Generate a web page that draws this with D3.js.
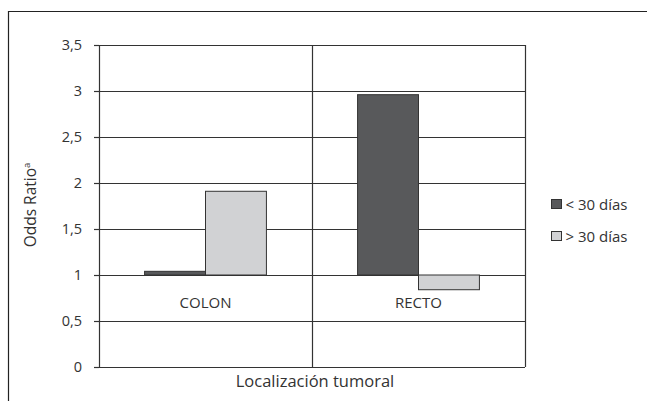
<!DOCTYPE html>
<html>
<head>
<meta charset="utf-8">
<script src="https://cdn.jsdelivr.net/npm/d3@7"></script>
<style>
  html, body { margin: 0; padding: 0; background: #fff; }
  svg { display: block; }
  text { font-family: "Open Sans", "Noto Sans", sans-serif; fill: #333; }
</style>
</head>
<body>
<svg id="chart" width="647" height="401"></svg>
<script>
// Odds ratio by tumour location and delay
const categories = ["COLON", "RECTO"];
const seriesNames = ["< 30 días", "> 30 días"];
const lessThan30 = [1.04, 2.96];
const moreThan30 = [1.91, 0.84];
const yTicks = [0, 0.5, 1, 1.5, 2, 2.5, 3, 3.5];
const baseline = 1;

const colors = ["#58595b", "#d1d2d4"];
const stroke = "#333";

const svg = d3.select("#chart");
const plotLeft = 99, plotRight = 525, plotTop = 45, plotBottom = 367;

const x = d3.scaleBand().domain(categories).range([plotLeft, plotRight]);
const inner = d3.scaleBand().domain(seriesNames)
  .range([0, x.bandwidth() * 0.572]);
const innerOffset = (x.bandwidth() - inner.range()[1]) / 2;
const y = d3.scaleLinear().domain([0, 3.5]).range([plotBottom, plotTop]);

const fmt = d => String(d).replace(".", ",");

// outer frame (open to the right and bottom)
svg.append("path")
  .attr("d", "M8.5,401 V11.5 H647")
  .attr("fill", "none").attr("stroke", "#222").attr("stroke-width", 1.2);

// horizontal gridlines
svg.append("g").selectAll("line").data(yTicks).join("line")
  .attr("x1", plotLeft).attr("x2", plotRight)
  .attr("y1", d => Math.round(y(d)) + 0.5).attr("y2", d => Math.round(y(d)) + 0.5)
  .attr("stroke", stroke).attr("stroke-width", 1.2);

// y axis with ticks
const yAxis = d3.axisLeft(y).tickValues(yTicks).tickFormat(fmt).tickSize(5).tickPadding(12);
const gy = svg.append("g").attr("transform", `translate(${plotLeft},0)`).call(yAxis);
gy.select(".domain").attr("stroke", stroke).attr("stroke-width", 1.2);
gy.selectAll(".tick line").attr("stroke", stroke).attr("stroke-width", 1.2);
gy.selectAll(".tick text").attr("font-size", 14.5).attr("fill", "#333")
  .style("font-family", '"Open Sans", sans-serif');

// vertical separators between categories and right edge
const seps = categories.map(c => x(c) + x.bandwidth());
svg.append("g").selectAll("line").data(seps).join("line")
  .attr("x1", d => Math.round(d) + 0.5).attr("x2", d => Math.round(d) + 0.5)
  .attr("y1", plotTop).attr("y2", plotBottom)
  .attr("stroke", stroke).attr("stroke-width", 1.2);

// bars, drawn from the baseline of 1
const series = [lessThan30, moreThan30];
const barData = [];
categories.forEach((c, i) => {
  seriesNames.forEach((s, j) => {
    barData.push({ cat: c, name: s, value: series[j][i], color: colors[j] });
  });
});
svg.append("g").selectAll("rect").data(barData).join("rect")
  .attr("x", d => x(d.cat) + innerOffset + inner(d.name))
  .attr("width", inner.bandwidth())
  .attr("y", d => y(Math.max(d.value, baseline)))
  .attr("height", d => Math.abs(y(d.value) - y(baseline)))
  .attr("fill", d => d.color)
  .attr("stroke", stroke).attr("stroke-width", 1);

// category labels under the baseline axis
svg.append("g").selectAll("text").data(categories).join("text")
  .attr("x", d => x(d) + x.bandwidth() / 2)
  .attr("y", y(baseline) + 33)
  .attr("text-anchor", "middle")
  .attr("font-size", 15)
  .text(d => d);

// axis titles
svg.append("text")
  .attr("x", (plotLeft + plotRight) / 2 + 3).attr("y", 387)
  .attr("text-anchor", "middle").attr("font-size", 16.5)
  .text("Localización tumoral");

const yt = svg.append("text")
  .attr("transform", `translate(36,205) rotate(-90)`)
  .attr("text-anchor", "middle").attr("font-size", 15.5);
yt.append("tspan").text("Odds Ratio");
yt.append("tspan").attr("font-size", 9.5).attr("dy", -6).text("a");

// legend
const legend = svg.append("g").selectAll("g").data(seriesNames).join("g")
  .attr("transform", (d, i) => `translate(551.5,${199.5 + i * 32})`);
legend.append("rect")
  .attr("width", 10).attr("height", 9)
  .attr("fill", (d, i) => colors[i]).attr("stroke", stroke).attr("stroke-width", 1);
legend.append("text")
  .attr("x", 14).attr("y", 10).attr("font-size", 15)
  .text(d => d);
</script>
</body>
</html>
